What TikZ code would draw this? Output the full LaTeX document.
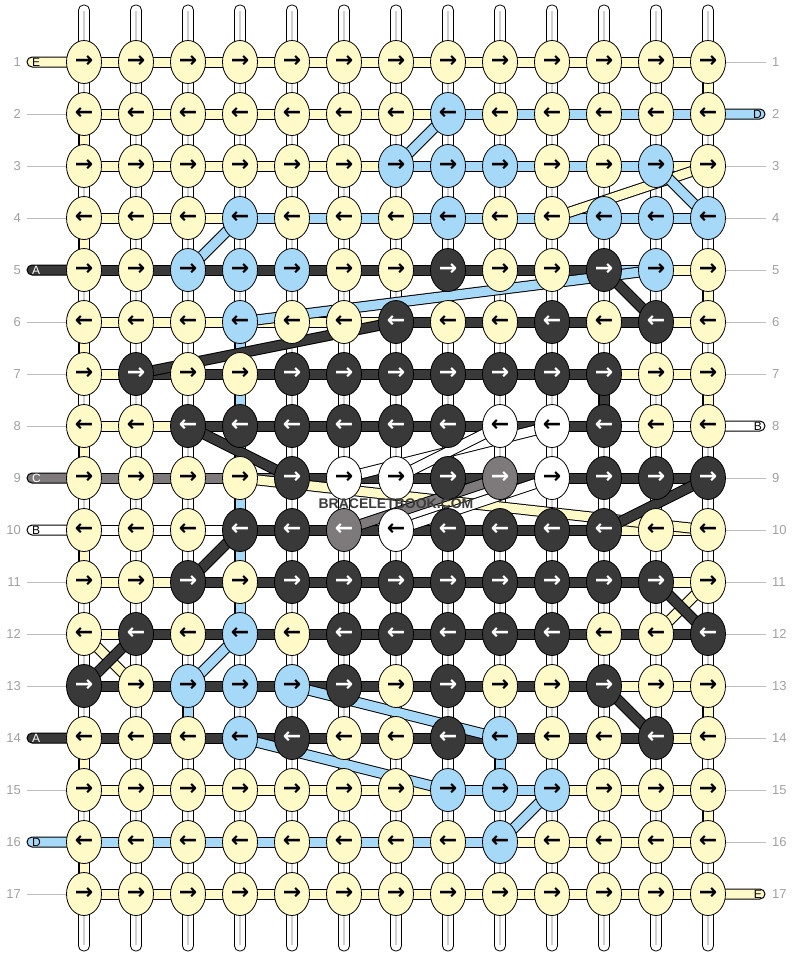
\documentclass[tikz,border=0pt]{standalone}
\usepackage{fontspec}
\setmainfont{Liberation Sans}
\newfontfamily\arrowfont{DejaVu Sans}
\usetikzlibrary{shapes.geometric}
\definecolor{cY}{HTML}{FFFAC8}
\definecolor{cB}{HTML}{A6D9F8}
\definecolor{cD}{HTML}{393939}
\definecolor{cW}{HTML}{FFFFFF}
\definecolor{cG}{HTML}{7E7A7B}
\definecolor{tY}{HTML}{000000}
\definecolor{tB}{HTML}{000000}
\definecolor{tW}{HTML}{000000}
\definecolor{tD}{HTML}{FFFFFF}
\definecolor{tG}{HTML}{FFFFFF}
\definecolor{numgray}{HTML}{A0A0A0}
\definecolor{linegray}{HTML}{BDBDBD}
\definecolor{tubegray}{HTML}{CFCFCF}
\definecolor{markgray}{HTML}{3C3C3C}
\pgfdeclarelayer{tubes}
\pgfdeclarelayer{bands}
\pgfsetlayers{tubes,bands,main}
\newcommand\strandband[3]{%
  \draw[line width=11pt,color=black] (#2.center) -- (#3.center);
  \draw[line width=9pt,color=#1] (#2.center) -- (#3.center);}
\tikzset{
  knot/.style={ellipse,draw=black,line width=0.8pt,minimum width=35pt,minimum height=43pt,inner sep=0pt,font=\arrowfont\bfseries\fontsize{22}{22}\selectfont},
  rownum/.style={font=\fontsize{13}{13}\selectfont,text=numgray,inner sep=0pt},
  labline/.style={draw=linegray,line width=1pt},
  tabbox/.style={draw=black,line width=1pt,rounded corners=5pt},
  tabletter/.style={font=\fontsize{12}{12}\selectfont,inner sep=0pt},
  wmark/.style={font=\bfseries\fontsize{14}{14}\selectfont,inner sep=0pt},
}
\begin{document}
\begin{tikzpicture}[x=1pt,y=-1pt]
\useasboundingbox (0,0) rectangle (792,956);
% knots
\foreach \cols [count=\r] in {
 {Y,Y,Y,Y,Y,Y,Y,Y,Y,Y,Y,Y,Y},
 {Y,Y,Y,Y,Y,Y,Y,B,Y,Y,Y,Y,Y},
 {Y,Y,Y,Y,Y,Y,B,B,B,Y,Y,B,Y},
 {Y,Y,Y,B,Y,Y,Y,B,Y,Y,B,B,B},
 {Y,Y,B,B,B,Y,Y,D,Y,Y,D,B,Y},
 {Y,Y,Y,B,Y,Y,D,Y,Y,D,Y,D,Y},
 {Y,D,Y,Y,D,D,D,D,D,D,D,Y,Y},
 {Y,Y,D,D,D,D,D,D,W,W,D,Y,Y},
 {Y,Y,Y,Y,D,W,W,D,G,W,D,D,D},
 {Y,Y,Y,D,D,G,W,D,D,D,D,Y,Y},
 {Y,Y,D,Y,D,D,D,D,D,D,D,D,Y},
 {Y,D,Y,B,Y,D,D,D,D,D,Y,Y,D},
 {D,Y,B,B,B,D,Y,D,Y,Y,D,Y,Y},
 {Y,Y,Y,B,D,Y,Y,D,B,Y,Y,D,Y},
 {Y,Y,Y,Y,Y,Y,Y,B,B,B,Y,Y,Y},
 {Y,Y,Y,Y,Y,Y,Y,Y,B,Y,Y,Y,Y},
 {Y,Y,Y,Y,Y,Y,Y,Y,Y,Y,Y,Y,Y}}{
  \foreach \k [count=\c] in \cols {
    \node[knot,fill=c\k,text=t\k] (n-\r-\c) at ({84+52*(\c-1)},{62+52*(\r-1)}) {\ifodd\r →\else ←\fi};
  }
}
% row numbers and label lines
\foreach \r in {1,...,17}{
  \node[rownum,anchor=east] (ln-\r) at (21,{62+52*(\r-1)}) {\r};
  \node[rownum,anchor=west] (rn-\r) at (772,{62+52*(\r-1)}) {\r};
}
\foreach \r in {2,3,4,6,7,8,11,12,13,15,17}{
  \draw[labline] ([xshift=6pt]ln-\r.east) -- (n-\r-1.west);
}
\foreach \r in {1,3,4,5,6,7,9,10,11,12,13,14,15,16}{
  \draw[labline] (n-\r-13.east) -- ([xshift=-6pt]rn-\r.west);
}
% white base strings
\begin{pgfonlayer}{tubes}
\foreach \c in {1,...,13}{
  \coordinate (top-\c) at ({84+52*(\c-1)},5);
  \coordinate (bot-\c) at ({84+52*(\c-1)},951);
  \draw[fill=white,line width=0.8pt,rounded corners=5pt] ([xshift=-5.5pt]top-\c) rectangle ([xshift=5.5pt]bot-\c);
  \draw[tubegray,line width=2pt] ([yshift=-6pt]top-\c) -- ([yshift=6pt]bot-\c);
}
\end{pgfonlayer}
\begin{pgfonlayer}{bands}
% vertical coloured pieces
\foreach \c/\r/\k in {1/2/Y,1/4/Y,1/6/Y,1/8/Y,1/10/Y,1/14/Y,1/16/Y,
  13/1/Y,13/5/Y,13/7/Y,13/13/Y,13/15/Y,
  4/6/B,4/7/B,4/8/B,4/9/B,4/10/B,4/11/B,11/7/D,3/13/B,9/14/B}{
  \pgfmathtruncatemacro\rn{\r+1}
  \strandband{c\k}{n-\r-\c}{n-\rn-\c}
}
% horizontal pieces
\foreach \segs [count=\r] in {
 {Y,Y,Y,Y,Y,Y,Y,Y,Y,Y,Y,Y},
 {Y,Y,Y,Y,Y,Y,Y,B,B,B,B,B},
 {Y,Y,Y,Y,Y,Y,B,B,B,B,B,Y},
 {Y,Y,Y,B,B,B,B,B,B,B,B,B},
 {D,D,D,D,D,D,D,D,D,D,B,Y},
 {Y,Y,Y,Y,Y,Y,D,D,D,D,D,Y},
 {Y,D,D,D,D,D,D,D,D,D,Y,Y},
 {Y,Y,D,D,D,D,D,D,D,D,W,W},
 {G,G,G,G,D,D,D,D,D,D,D,D},
 {W,W,W,D,D,D,D,D,D,D,Y,Y},
 {Y,Y,D,D,D,D,D,D,D,D,D,Y},
 {Y,D,D,D,D,D,D,D,D,D,D,D},
 {D,D,D,D,D,D,D,D,D,D,Y,Y},
 {D,D,D,D,D,D,D,D,D,D,D,Y},
 {Y,Y,Y,Y,Y,Y,Y,B,B,Y,Y,Y},
 {B,B,B,B,B,B,B,B,Y,Y,Y,Y},
 {Y,Y,Y,Y,Y,Y,Y,Y,Y,Y,Y,Y}}{
  \foreach \k [count=\c] in \segs {
    \pgfmathtruncatemacro\cn{\c+1}
    \strandband{c\k}{n-\r-\c}{n-\r-\cn}
  }
}
% tabs
\foreach \r/\k/\L/\t in {1/Y/E/black,5/D/A/white,9/G/C/white,10/W/B/black,14/D/A/white,16/B/D/black}{
  \path (n-\r-1.center) ++(-57,0) coordinate (tl-\r);
  \draw[tabbox,fill=c\k] ([yshift=-5pt]tl-\r) rectangle ([yshift=5pt]n-\r-1.center);
  \node[tabletter,text=\t,anchor=west] (tlet-\r) at ([xshift=5pt]tl-\r) {\L};
}
\foreach \r/\k/\L/\t in {2/B/D/black,8/W/B/black,17/Y/E/black}{
  \path (n-\r-13.center) ++(57,0) coordinate (tr-\r);
  \draw[tabbox,fill=c\k] ([yshift=-5pt]n-\r-13.center) rectangle ([yshift=5pt]tr-\r);
  \node[tabletter,text=\t,anchor=east] (trlet-\r) at ([xshift=-3pt]tr-\r) {\L};
}
% diagonal pieces
\foreach \k/\a/\b in {
  Y/n-3-13/n-4-10, Y/n-9-4/n-10-13, Y/n-12-1/n-13-2, Y/n-11-13/n-12-12,
  D/n-5-11/n-6-12, D/n-6-7/n-7-2, D/n-8-3/n-9-5, D/n-10-11/n-9-13,
  D/n-11-3/n-10-4, D/n-12-2/n-13-1, D/n-11-12/n-12-13, D/n-13-11/n-14-12,
  W/n-9-6/n-8-10, W/n-9-7/n-8-9, W/n-10-7/n-9-10, G/n-10-6/n-9-9,
  B/n-2-8/n-3-7, B/n-3-12/n-4-13, B/n-4-4/n-5-3, B/n-5-12/n-6-4,
  B/n-12-4/n-13-3, B/n-13-5/n-14-9, B/n-14-4/n-15-8, B/n-15-10/n-16-9}{
  \strandband{c\k}{\a}{\b}
}
\end{pgfonlayer}
% watermark
\node[wmark,text=markgray] (wm) at (396,504) {BRACELETBOOK.COM};
\end{tikzpicture}
\end{document}
